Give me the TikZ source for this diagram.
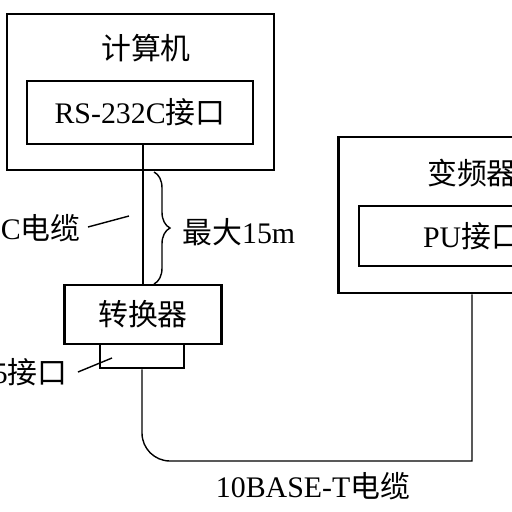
\documentclass[tikz,border=0pt]{standalone}
\usepackage{fontspec}
\setmainfont{Liberation Serif}
\newfontfamily\cjk{Noto Sans CJK SC}
\usetikzlibrary{decorations.pathreplacing}

\begin{document}
\begin{tikzpicture}[x=0.02cm,y=-0.02cm]
\tikzstyle{host}=[rectangle,draw,line width=1.6pt,minimum width=5.34cm,minimum height=3.12cm]
\tikzstyle{iface}=[rectangle,draw,line width=1.6pt,inner sep=0pt,font=\fontsize{17}{20}\selectfont]
\tikzstyle{txt}=[inner sep=0pt,font=\fontsize{17}{20}\selectfont]
\tikzstyle{wire}=[line width=0.8pt]

\clip (0,0) rectangle (512,512);

\node[host] (comp) at (140.5,92) {};
\node[txt] (comptext) at (146,48) {\cjk 计算机};
\node[iface,minimum width=4.52cm,minimum height=1.26cm] (rs) at (140,112.5) {RS-232C{\cjk 接口}};

\node[iface,minimum width=3.14cm,minimum height=1.18cm] (conv) at (143,314.5) {\cjk 转换器};
\node[iface,minimum width=1.68cm,minimum height=0.48cm] (port) at (142,356) {};

\node[host] (inv) at (472,215) {};
\node[txt] (invtext) at (472,173) {\cjk 变频器};
\node[iface,minimum width=4.52cm,minimum height=1.2cm] (pu) at (472,236) {PU{\cjk 接口}};

\node[txt,anchor=east] (cablelbl) at (81,228) {C{\cjk 电缆}};
\node[txt,anchor=west] (lenlbl) at (182,232) {{\cjk 最大}15m};
\node[txt,anchor=east] (portlbl) at (68,372) {5{\cjk 接口}};
\node[txt] (baselbl) at (313,486) {10BASE-T{\cjk 电缆}};

\coordinate (l1) at (88,227);
\coordinate (l2) at (129,216);
\coordinate (p1) at (78,372);
\coordinate (p2) at (112,358);
\coordinate (b1) at (154,172);
\coordinate (b2) at (154,284);
\coordinate (bend) at (472,461);

\draw[wire] (conv.north |- rs.south) -- (conv.north);
\draw[wire,decorate,decoration={brace,amplitude=0.32cm}] (b1) -- (b2);
\draw[wire] (l1) -- (l2);
\draw[wire] (p1) -- (p2);
\draw[wire] (inv.south) -- (bend) [rounded corners=0.56cm] -| (port.south);

\end{tikzpicture}
\end{document}
